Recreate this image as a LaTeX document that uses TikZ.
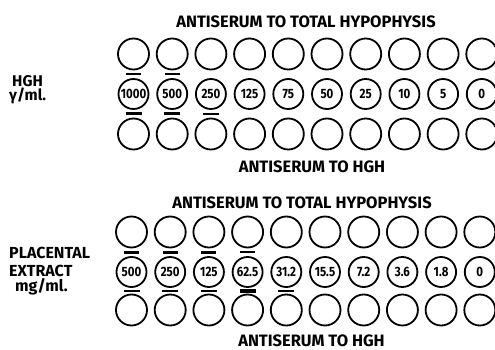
\documentclass[tikz,border=0pt]{standalone}
\usepackage{fontspec}
\setmainfont{Fira Sans}
\newfontfamily\letterfont{Fira Sans}[FakeStretch=0.85]
\usetikzlibrary{calc}

\begin{document}
\begin{tikzpicture}[x=1pt,y=-1pt,
  well/.style={circle,draw,line width=1.8pt,minimum size=31pt,inner sep=0pt},
  sample/.style={well,minimum size=30pt,font=\letterfont\bfseries\fontsize{13.5}{13.5}\selectfont},
  title/.style={anchor=base,inner sep=0pt,font=\bfseries\fontsize{16.5}{16.5}\selectfont},
  side/.style={anchor=base west,inner sep=0pt,font=\bfseries\fontsize{#1}{#1}\selectfont},
  band/.style={line width=#1,line cap=butt}]
\useasboundingbox (0,0) rectangle (495,350);
% plate with HGH
\node[title] (titleA) at (306,28) {ANTISERUM TO TOTAL HYPOPHYSIS};
\node[title] (footA) at (312,172) {ANTISERUM TO HGH};
\node[side=15.5] (hgh) at (12,87) {HGH};
\node[side=15.5] (hghunit) at (9,101) {γ/ml.};
\foreach \i/\lab in {0/1000,1/500,2/250,3/125,4/75,5/50,6/25,7/10,8/5,9/0} {
  \node[well] (topA\i) at (133.5+38.7*\i,54) {};
  \node[sample] (midA\i) at (133.5+38.7*\i,94) {\lab};
  \node[well] (botA\i) at (133.5+38.7*\i,134) {};
}
% precipitation lines
\foreach \i/\w in {0/2.5pt,1/2.5pt}
  \draw[band=\w] ($(topA\i.south)!0.5!(midA\i.north)$) ++(-7.5,0) -- ++(15,0);
\foreach \i/\w in {0/3pt,1/3pt,2/2pt}
  \draw[band=\w] ($(midA\i.south)!0.5!(botA\i.north)$) ++(-8,0) -- ++(16,0);
% plate with placental extract
\node[title] (titleB) at (302,208) {ANTISERUM TO TOTAL HYPOPHYSIS};
\node[title] (footB) at (311.5,346.5) {ANTISERUM TO HGH};
\node[side=16] (plac) at (9,258) {PLACENTAL};
\node[side=16] (extr) at (9,276) {EXTRACT};
\node[side=16] (placunit) at (15,291) {mg/ml.};
\foreach \i/\lab in {0/500,1/250,2/125,3/62.5,4/31.2,5/15.5,6/7.2,7/3.6,8/1.8,9/0} {
  \node[well] (topB\i) at (131.5+38.7*\i,232) {};
  \node[sample] (midB\i) at (131.5+38.7*\i,272) {\lab};
  \node[well] (botB\i) at (131.5+38.7*\i,310) {};
}
% precipitation lines
\foreach \i/\w in {0/2.5pt,1/2.5pt,2/3.5pt,3/1.8pt}
  \draw[band=\w] ($(topB\i.south)!0.5!(midB\i.north)$) ++(-7.5,0) -- ++(15,0);
\foreach \i/\w in {0/2pt,1/2pt,2/2.5pt,3/3.5pt,4/2.2pt}
  \draw[band=\w] ($(midB\i.south)!0.5!(botB\i.north)$) ++(-8,0) -- ++(16,0);
\end{tikzpicture}
\end{document}
